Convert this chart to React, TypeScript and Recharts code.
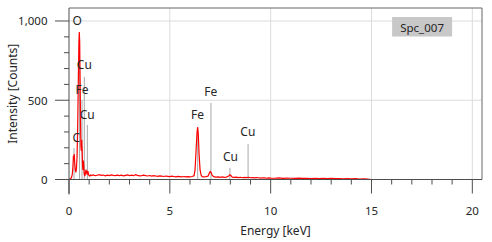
import React from 'react';
import {
  LineChart,
  Line,
  XAxis,
  YAxis,
  CartesianGrid,
  ReferenceLine,
  ReferenceDot,
} from 'recharts';

// spectrum: [energy keV, counts]
const spectrum: [number, number][] = [
  [0.0, 0], [0.04, 3], [0.08, 6], [0.12, 12], [0.16, 30], [0.19, 70], [0.22, 150], [0.24, 125],
  [0.26, 160], [0.28, 110], [0.31, 60], [0.34, 45], [0.37, 70], [0.4, 150], [0.43, 320], [0.46, 600],
  [0.49, 860], [0.51, 930], [0.53, 870], [0.55, 640], [0.57, 380], [0.59, 210], [0.61, 180], [0.63, 250],
  [0.65, 190], [0.67, 90], [0.69, 60], [0.71, 120], [0.73, 95], [0.75, 40], [0.78, 22], [0.81, 35],
  [0.84, 62], [0.87, 48], [0.9, 30], [0.93, 55], [0.96, 40], [0.99, 25], [1.03, 22], [1.07, 28],
  [1.1, 25], [1.2, 29], [1.3, 24], [1.4, 27], [1.5, 30], [1.6, 26], [1.7, 28], [1.8, 23], [1.9, 27],
  [2.0, 25], [2.1, 29], [2.2, 26], [2.3, 24], [2.4, 28], [2.5, 25], [2.6, 27], [2.7, 23], [2.8, 26],
  [2.9, 29], [3.0, 25], [3.1, 27], [3.2, 24], [3.3, 30], [3.4, 26], [3.5, 23], [3.6, 25], [3.7, 28],
  [3.8, 24], [3.9, 22], [4.0, 25], [4.1, 21], [4.2, 24], [4.3, 22], [4.4, 20], [4.5, 23], [4.6, 21],
  [4.7, 19], [4.8, 22], [4.9, 20], [5.0, 18], [5.1, 21], [5.2, 19], [5.3, 17], [5.4, 20], [5.5, 18],
  [5.6, 16], [5.7, 19], [5.8, 17], [5.9, 18], [6.0, 16], [6.1, 19], [6.2, 24], [6.25, 60], [6.3, 180],
  [6.35, 300], [6.38, 330], [6.41, 290], [6.45, 160], [6.5, 60], [6.55, 28], [6.6, 18], [6.7, 16],
  [6.8, 18], [6.9, 22], [6.95, 38], [7.0, 50], [7.05, 44], [7.1, 26], [7.2, 16], [7.3, 15], [7.4, 17],
  [7.5, 14], [7.6, 16], [7.7, 13], [7.8, 15], [7.9, 20], [7.98, 30], [8.05, 22], [8.1, 14], [8.2, 13],
  [8.3, 15], [8.4, 12], [8.5, 14], [8.6, 11], [8.7, 13], [8.8, 12], [8.9, 14], [9.0, 11], [9.1, 12],
  [9.2, 10], [9.3, 12], [9.4, 11], [9.5, 9], [9.6, 11], [9.7, 10], [9.8, 8], [9.9, 10], [10.0, 9],
  [10.2, 8], [10.4, 10], [10.6, 7], [10.8, 9], [11.0, 8], [11.2, 7], [11.4, 9], [11.6, 7], [11.8, 8],
  [12.0, 6], [12.2, 8], [12.4, 6], [12.6, 7], [12.8, 5], [13.0, 7], [13.2, 5], [13.4, 6], [13.6, 4],
  [13.8, 6], [14.0, 4], [14.2, 5], [14.4, 3], [14.6, 4], [14.8, 2], [15.0, 0], [20.48, 0],
];

// element marker lines: energy, height of the grey line
const markerLines: [number, number][] = [
  [0.25, 199], [0.52, 920], [0.645, 502], [0.76, 647], [0.91, 344],
  [6.38, 320], [7.04, 483], [7.98, 73], [8.88, 224],
];

// element labels: text, energy, counts (centre of text)
const peakLabels: [string, number, number][] = [
  ['O', 0.4, 1006], ['Cu', 0.76, 726], ['Fe', 0.65, 567], ['Cu', 0.9, 413], ['C', 0.36, 268],
  ['Fe', 6.37, 407], ['Fe', 7.03, 554], ['Cu', 8.01, 144], ['Cu', 8.87, 300],
];

const xTicks = [0, 1, 2, 3, 4, 5, 6, 7, 8, 9, 10, 11, 12, 13, 14, 15, 16, 17, 18, 19, 20];
const yTicks = [0, 100, 200, 300, 400, 500, 600, 700, 800, 900, 1000];
const xMax = 20.48;
const yMax = 1082;

const data = spectrum.map(([e, c]) => ({ e, c }));

const FONT = '"Noto Sans", sans-serif';
const TEXT = '#262626';
const AXIS = '#4d4d4d';

const XTick = (props: any) => {
  const { x, y, payload } = props;
  const major = payload.value % 5 === 0;
  return (
    <g>
      <line x1={x} x2={x} y1={y} y2={y + (major ? 14 : 5)} stroke={AXIS} strokeWidth={1} />
      {major && (
        <text x={x} y={y + 35.5} textAnchor="middle" fontSize={11.5} fontFamily={FONT} fill={TEXT}>
          {payload.value}
        </text>
      )}
    </g>
  );
};

const YTick = (props: any) => {
  const { x, y, payload } = props;
  const major = payload.value % 500 === 0;
  return (
    <g>
      <line x1={x - (major ? 14 : 5)} x2={x} y1={y} y2={y} stroke={AXIS} strokeWidth={1} />
      {major && (
        <text x={x - 21.5} y={y + 4.5} textAnchor="end" fontSize={11.5} fontFamily={FONT} fill={TEXT}>
          {payload.value.toLocaleString('en-US')}
        </text>
      )}
    </g>
  );
};

export default function App() {
  return (
    <div style={{ position: 'absolute', left: 0, top: 0, width: 492, height: 242, background: '#fff' }}>
      <LineChart width={492} height={242} data={data} margin={{ top: 8, right: 10, bottom: 0, left: 0 }}>
        <CartesianGrid
          stroke="#dcdcdc"
          horizontalValues={[500, 1000]}
          verticalValues={[5, 10, 15, 20]}
        />
        <XAxis
          type="number"
          dataKey="e"
          domain={[0, xMax]}
          ticks={xTicks}
          allowDataOverflow
          height={62.5}
          tickSize={0}
          tickMargin={0}
          tickLine={false}
          axisLine={{ stroke: AXIS }}
          tick={XTick}
          interval={0}
          label={(p: any) => {
            const vb = p.viewBox || {};
            return (
              <text x={vb.x + vb.width / 2} y={234.5} textAnchor="middle" fontSize={12} fontFamily={FONT} fill={TEXT}>
                Energy [keV]
              </text>
            );
          }}
        />
        <YAxis
          type="number"
          domain={[0, yMax]}
          ticks={yTicks}
          allowDataOverflow
          width={69}
          tickSize={0}
          tickMargin={0}
          tickLine={false}
          axisLine={{ stroke: AXIS }}
          tick={YTick}
          interval={0}
          label={(p: any) => {
            const vb = p.viewBox || {};
            const cy = vb.y + vb.height / 2;
            return (
              <text
                x={12.5}
                y={cy}
                transform={`rotate(-90 12.5 ${cy})`}
                textAnchor="middle"
                dominantBaseline="central"
                fontSize={12}
                fontFamily={FONT}
                fill={TEXT}
              >
                Intensity [Counts]
              </text>
            );
          }}
        />
        {/* frame */}
        <ReferenceLine y={yMax} stroke="#666" ifOverflow="visible" />
        <ReferenceLine x={xMax} stroke="#666" ifOverflow="visible" />
        <ReferenceLine segment={[{ x: 0, y: 0 }, { x: 0, y: -95 }]} stroke={AXIS} ifOverflow="visible" />
        {markerLines.map(([e, h], i) => (
          <ReferenceLine key={`m${i}`} segment={[{ x: e, y: 0 }, { x: e, y: h }]} stroke="#a8a8a8" strokeWidth={1} />
        ))}
        <Line
          type="linear"
          dataKey="c"
          stroke="#ff0000"
          strokeWidth={1.2}
          dot={false}
          isAnimationActive={false}
        />
        {peakLabels.map(([t, e, v], i) => (
          <ReferenceDot
            key={`l${i}`}
            x={e}
            y={v}
            r={0}
            ifOverflow="visible"
            shape={(p: any) => (
              <text x={p.cx} y={p.cy} textAnchor="middle" dominantBaseline="central" fontSize={12} fontFamily={FONT} fill={TEXT}>
                {t}
              </text>
            )}
          />
        ))}
        <ReferenceDot
          x={17.51}
          y={962}
          r={0}
          ifOverflow="visible"
          shape={(p: any) => (
            <g>
              <rect x={p.cx - 30} y={p.cy - 10} width={60} height={19.5} fill="#c8c8c8" />
              <text x={p.cx} y={p.cy} textAnchor="middle" dominantBaseline="central" fontSize={11.5} fontFamily={FONT} fill={TEXT}>
                Spc_007
              </text>
            </g>
          )}
        />
      </LineChart>
    </div>
  );
}
